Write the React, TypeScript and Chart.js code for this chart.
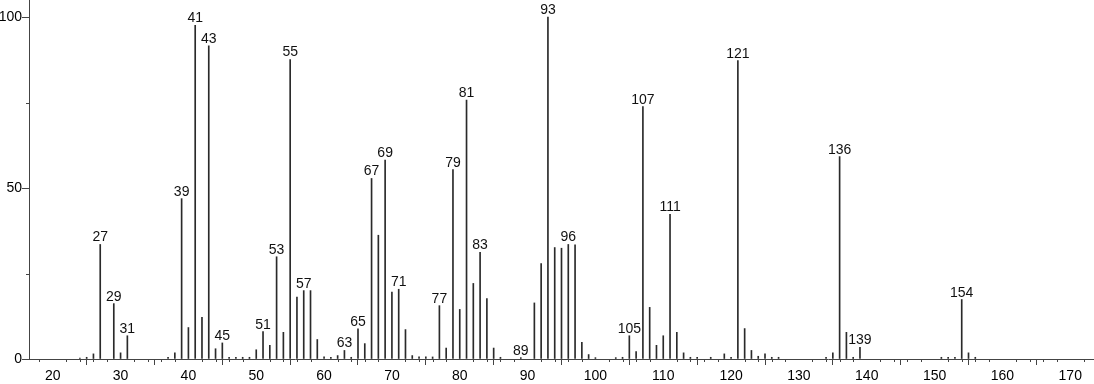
import React, { useEffect, useRef } from "react";
import { Chart, registerables } from "chart.js";

Chart.register(...registerables);

// m/z values and relative intensities (%)
const mzValues = [
  24, 25, 26, 27, 29, 30, 31, 37, 38, 39, 40, 41, 42, 43, 44, 45, 46, 47, 48, 49,
  50, 51, 52, 53, 54, 55, 56, 57, 58, 59, 60, 61, 62, 63, 64, 65, 66, 67, 68, 69,
  70, 71, 72, 73, 74, 75, 76, 77, 78, 79, 80, 81, 82, 83, 84, 85, 86, 89, 91, 92,
  93, 94, 95, 96, 97, 98, 99, 100, 103, 104, 105, 106, 107, 108, 109, 110, 111, 112, 113, 114,
  115, 117, 119, 120, 121, 122, 123, 124, 125, 126, 127, 134, 135, 136, 137, 138, 139, 151, 152, 153,
  154, 155, 156,
];
const intensities = [
  0.3, 0.5, 1.5, 33.5, 16.2, 1.8, 6.8, 0.5, 1.8, 46.9, 9.2, 97.6, 12.2, 91.6, 3.0, 4.7, 0.5, 0.5, 0.5, 0.5,
  2.7, 8.0, 4.0, 29.9, 7.8, 87.6, 18.1, 20.0, 20.0, 5.7, 0.6, 0.5, 1.0, 2.5, 0.5, 8.8, 4.5, 52.8, 36.2, 58.2,
  19.6, 20.4, 8.6, 1.0, 0.6, 0.6, 0.6, 15.6, 3.2, 55.4, 14.5, 75.7, 22.1, 31.2, 17.7, 3.2, 0.5, 0.4, 16.4, 27.9,
  100, 32.6, 32.4, 33.5, 33.4, 4.9, 1.3, 0.4, 0.4, 0.5, 6.8, 2.2, 73.8, 15.1, 4.0, 6.8, 42.3, 7.8, 1.8, 0.5,
  0.5, 0.5, 1.5, 0.5, 87.3, 8.9, 2.5, 0.8, 1.5, 0.5, 0.5, 0.5, 1.8, 59.2, 7.8, 0.5, 3.4, 0.5, 0.5, 0.5,
  17.4, 1.8, 0.5,
];
const labeledPeaks = [
  27, 29, 31, 39, 41, 43, 45, 51, 53, 55, 57, 63, 65, 67, 69, 71, 77, 79, 81, 83,
  89, 93, 96, 105, 107, 111, 121, 136, 139, 154,
];
const xTickValues = [20, 30, 40, 50, 60, 70, 80, 90, 100, 110, 120, 130, 140, 150, 160, 170];
const yTickValues = [0, 50, 100];
const yMinorTickValues = [25, 75];
const xMinorTickValues: number[] = [];
for (let v = 18; v <= 172; v += 2) if (v % 10 !== 0) xMinorTickValues.push(v);

const AXIS_COLOR = "#444";
const BAR_COLOR = "#2a2a2a";
const FONT_FAMILY = '"Liberation Sans", Arial, Helvetica, sans-serif';

const annotatePlugin = {
  id: "annotate",
  afterDraw(chart: any) {
    const ctx = chart.ctx as CanvasRenderingContext2D;
    const xs = chart.scales.x;
    const ys = chart.scales.y;
    ctx.save();
    ctx.strokeStyle = AXIS_COLOR;
    ctx.lineWidth = 1;
    ctx.beginPath();
    for (const v of xMinorTickValues) {
      const px = Math.round(xs.getPixelForValue(v)) + 0.5;
      ctx.moveTo(px, ys.bottom);
      ctx.lineTo(px, ys.bottom + 3);
    }
    for (const v of yMinorTickValues) {
      const py = Math.round(ys.getPixelForValue(v)) + 0.5;
      ctx.moveTo(xs.left, py);
      ctx.lineTo(xs.left - 3, py);
    }
    ctx.stroke();

    ctx.font = `14px ${FONT_FAMILY}`;
    ctx.fillStyle = "#111";
    ctx.textAlign = "center";
    ctx.textBaseline = "alphabetic";
    for (const mz of labeledPeaks) {
      const i = mzValues.indexOf(mz);
      if (i < 0) continue;
      const px = xs.getPixelForValue(mz);
      const py = ys.getPixelForValue(intensities[i]);
      ctx.fillText(String(mz), px, py - 3);
    }
    ctx.restore();
  },
};

export default function App() {
  const canvasRef = useRef<HTMLCanvasElement | null>(null);

  useEffect(() => {
    const canvas = canvasRef.current;
    if (!canvas) return;
    const font = { family: FONT_FAMILY, size: 14 };
    const chart = new Chart(canvas, {
      type: "bar",
      data: {
        datasets: [
          {
            data: mzValues.map((x, i) => ({ x, y: intensities[i] })),
            backgroundColor: BAR_COLOR,
            borderWidth: 0,
            barThickness: 1,
          },
        ],
      },
      options: {
        animation: false,
        responsive: false,
        devicePixelRatio: 1,
        layout: { padding: 0 },
        plugins: { legend: { display: false }, tooltip: { enabled: false } },
        scales: {
          x: {
            type: "linear",
            min: 16.5,
            max: 173.5,
            offset: false,
            afterBuildTicks: (s: any) => {
              s.ticks = xTickValues.map((v) => ({ value: v }));
            },
            afterFit: (s: any) => {
              s.height = 25;
              s.paddingLeft = 0;
              s.paddingRight = 0;
            },
            ticks: { font, color: "#000", padding: 3, autoSkip: false, maxRotation: 0 },
            grid: { drawOnChartArea: false, drawTicks: true, tickLength: 6, color: AXIS_COLOR },
            border: { display: true, color: AXIS_COLOR, width: 1 },
          },
          y: {
            type: "linear",
            min: 0,
            max: 105,
            afterBuildTicks: (s: any) => {
              s.ticks = yTickValues.map((v) => ({ value: v }));
            },
            afterFit: (s: any) => {
              s.width = 29;
              s.paddingTop = 0;
              s.paddingBottom = 0;
            },
            ticks: { font, color: "#000", padding: 0 },
            grid: { drawOnChartArea: false, drawTicks: true, tickLength: 7, color: AXIS_COLOR },
            border: { display: true, color: AXIS_COLOR, width: 1 },
          },
        },
      } as any,
      plugins: [annotatePlugin],
    });
    return () => chart.destroy();
  }, []);

  return (
    <div style={{ position: "absolute", left: 0, top: 0, width: 1094, height: 384, background: "#fff" }}>
      <canvas ref={canvasRef} width={1094} height={384} />
    </div>
  );
}
